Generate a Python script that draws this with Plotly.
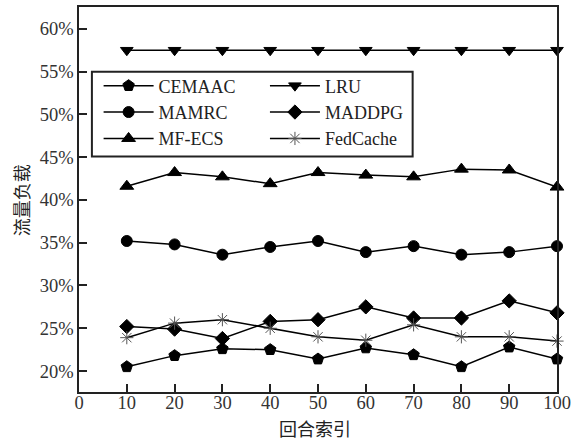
import plotly.graph_objects as go

rounds = [10, 20, 30, 40, 50, 60, 70, 80, 90, 100]
cemaac = [20.5, 21.8, 22.6, 22.5, 21.4, 22.7, 21.9, 20.5, 22.8, 21.4]
mamrc = [35.2, 34.8, 33.6, 34.5, 35.2, 33.9, 34.6, 33.6, 33.9, 34.6]
mfecs = [41.6, 43.2, 42.7, 41.9, 43.2, 42.9, 42.7, 43.6, 43.5, 41.5]
lru = [57.5, 57.5, 57.5, 57.5, 57.5, 57.5, 57.5, 57.5, 57.5, 57.5]
maddpg = [25.2, 24.9, 23.8, 25.8, 26.0, 27.5, 26.2, 26.2, 28.2, 26.8]
fedcache = [23.9, 25.6, 26.0, 25.0, 24.0, 23.6, 25.4, 24.0, 24.0, 23.5]

x_ticks = [0, 10, 20, 30, 40, 50, 60, 70, 80, 90, 100]
y_ticks = [20, 25, 30, 35, 40, 45, 50, 55, 60]
y_ticktext = [f"{v}%" for v in y_ticks]

FONT = "Liberation Serif, Times New Roman, Noto Sans CJK SC, serif"
CJK = "Noto Sans CJK SC, Liberation Serif, serif"

series = [
    ("CEMAAC", cemaac, "pentagon", 12, "legend", "black"),
    ("MAMRC", mamrc, "circle", 11, "legend", "black"),
    ("MF-ECS", mfecs, "triangle-up", 12, "legend", "black"),
    ("LRU", lru, "triangle-down", 11, "legend2", "black"),
    ("MADDPG", maddpg, "diamond", 11, "legend2", "black"),
    ("FedCache", fedcache, "asterisk-open", 11, "legend2", "#555555"),
]

fig = go.Figure()
for name, vals, sym, size, leg, mcol in series:
    fig.add_trace(go.Scatter(
        x=rounds, y=vals, name=name, mode="lines+markers",
        line=dict(color="black", width=1.5),
        marker=dict(symbol=sym, size=size, color=mcol,
                    line=dict(color=mcol, width=1)),
        legend=leg, cliponaxis=False,
    ))

legend_common = dict(
    bgcolor="rgba(0,0,0,0)", borderwidth=0,
    font=dict(family=FONT, size=18, color="#222"),
    itemwidth=50, xanchor="left", yanchor="top", orientation="v",
    tracegroupgap=0,
)
fig.update_layout(
    legend=dict(x=0.041, y=0.843, **legend_common),
    legend2=dict(x=0.389, y=0.843, **legend_common),
)

fig.add_shape(type="rect", xref="paper", yref="paper",
              x0=0.027, x1=0.698, y0=0.612, y1=0.832,
              line=dict(color="#222", width=2), fillcolor="rgba(0,0,0,0)")

axis_common = dict(
    showline=True, linecolor="#222", linewidth=1.5, mirror=True,
    ticks="inside", ticklen=8, tickwidth=1.5, tickcolor="#222",
    showgrid=False, zeroline=False,
    tickfont=dict(family=FONT, size=18.5, color="#333"),
)

fig.update_xaxes(range=[0, 100], tickvals=x_ticks, ticklabelstandoff=-7,
                 **axis_common)
fig.update_yaxes(range=[17.55, 62.55], tickvals=y_ticks, ticktext=y_ticktext,
                 **axis_common)

fig.add_annotation(text="回合索引", xref="paper", yref="paper",
                   x=(316 - 79) / 480, y=-(428 - 392) / 387,
                   xanchor="center", yanchor="middle", showarrow=False,
                   font=dict(family=CJK, size=18, color="#222"))
fig.add_annotation(text="流量负载", xref="paper", yref="paper",
                   x=-(79 - 21) / 480, y=(392 - 199) / 387, textangle=-90,
                   xanchor="center", yanchor="middle", showarrow=False,
                   font=dict(family=CJK, size=18, color="#222"))

fig.update_layout(
    width=576, height=440,
    margin=dict(l=79, r=17, t=5, b=48),
    paper_bgcolor="white", plot_bgcolor="white",
    showlegend=True,
)

fig.write_html("out.html")
